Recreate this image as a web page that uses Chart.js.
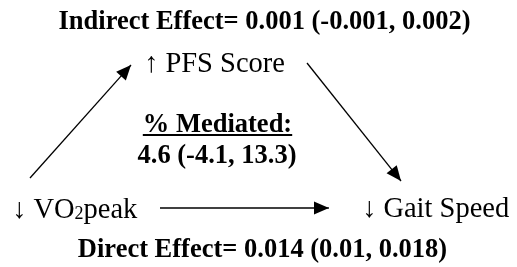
<!DOCTYPE html>
<html>
<head>
<meta charset="utf-8">
<script src="https://cdn.jsdelivr.net/npm/chart.js@4.4.1/dist/chart.umd.min.js"></script>
<style>
  html, body { margin: 0; padding: 0; background: #ffffff; }
  #wrap { width: 517px; height: 267px; }
</style>
</head>
<body>
<div id="wrap"><canvas id="c" width="517" height="267"></canvas></div>
<script>
// ---- data ----
const nodeNames = ["VO", "PFS Score", "Gait Speed"];
const nodeDirections = ["\u2193", "\u2191", "\u2193"];
const indirectEffect = [0.001, -0.001, 0.002];   // estimate, lower, upper
const directEffect = [0.014, 0.01, 0.018];       // estimate, lower, upper
const pctMediated = [4.6, -4.1, 13.3];           // estimate, lower, upper
const paths = [[0, 1], [1, 2], [0, 2]];          // from node -> to node

// ---- layout (diagram space, same units as the hidden axes) ----
const W = 517, H = 267;
const nodeAnchors = [ {x: 12, y: 218}, {x: 144, y: 72}, {x: 362, y: 217} ];
const arrowEnds = [
  [{x: 30, y: 178}, {x: 131, y: 65}],
  [{x: 307, y: 63}, {x: 401, y: 181}],
  [{x: 160, y: 208}, {x: 329, y: 208}]
];
const headLen = 15, headHalfW = 6.5;

function ci(v) { return v[0] + " (" + v[1] + ", " + v[2] + ")"; }
const titleText = "Indirect Effect= " + ci(indirectEffect);
const footText = "Direct Effect= " + ci(directEffect);
const medLabel = "% Mediated:";
const medText = ci(pctMediated);

// shorten each line so it ends at the base of the arrowhead
const datasets = paths.map((p, i) => {
  const a = arrowEnds[i][0], b = arrowEnds[i][1];
  const dx = b.x - a.x, dy = b.y - a.y, L = Math.hypot(dx, dy);
  return {
    label: nodeNames[p[0]] + " -> " + nodeNames[p[1]],
    data: [a, {x: b.x - dx / L * (headLen - 1), y: b.y - dy / L * (headLen - 1)}, b],
    showLine: true,
    borderColor: "#000",
    backgroundColor: "#000",
    borderWidth: 1.3,
    pointRadius: 0,
    pointHoverRadius: 0,
    segment: { borderWidth: ctx => ctx.p1DataIndex === 2 ? 0 : 1.3 }
  };
});

const diagramPlugin = {
  id: "diagram",
  afterDatasetsDraw(chart) {
    const ctx = chart.ctx, xs = chart.scales.x, ys = chart.scales.y;
    const px = v => xs.getPixelForValue(v), py = v => ys.getPixelForValue(v);
    ctx.save();
    ctx.fillStyle = "#000";
    ctx.strokeStyle = "#000";
    // arrowheads
    chart.data.datasets.forEach((ds, i) => {
      const meta = chart.getDatasetMeta(i);
      const a = meta.data[0], t = meta.data[2];
      const dx = t.x - a.x, dy = t.y - a.y, L = Math.hypot(dx, dy);
      const ux = dx / L, uy = dy / L, nx = -uy, ny = ux;
      const bx = t.x - ux * headLen, by = t.y - uy * headLen;
      ctx.beginPath();
      ctx.moveTo(t.x, t.y);
      ctx.lineTo(bx + nx * headHalfW, by + ny * headHalfW);
      ctx.lineTo(bx - nx * headHalfW, by - ny * headHalfW);
      ctx.closePath();
      ctx.fill();
    });
    ctx.textBaseline = "alphabetic";
    const bold = "bold 26.5px 'Liberation Serif', 'Times New Roman', serif";
    const reg = "28.5px 'Liberation Serif', 'Times New Roman', serif";
    // title / footer
    ctx.font = bold; ctx.textAlign = "center";
    ctx.fillText(titleText, px(264.5), py(29));
    ctx.fillText(footText, px(262.5), py(257));
    // % mediated
    ctx.fillText(medLabel, px(217.5), py(132));
    const mw = ctx.measureText(medLabel).width;
    ctx.fillRect(px(217.5) - mw / 2, py(134), mw, 2);
    ctx.fillText(medText, px(217), py(163));
    // nodes
    ctx.font = reg; ctx.textAlign = "left";
    nodeNames.forEach((n, i) => {
      const x = px(nodeAnchors[i].x), y = py(nodeAnchors[i].y);
      const s = nodeDirections[i] + " " + n;
      ctx.fillText(s, x, y);
      if (i === 0) {
        let w = ctx.measureText(s).width;
        ctx.font = "18px 'Liberation Serif', 'Times New Roman', serif";
        ctx.fillText("2", x + w, y + 1);
        w += ctx.measureText("2").width;
        ctx.font = reg;
        ctx.fillText("peak", x + w, y);
      }
    });
    ctx.restore();
  }
};

new Chart(document.getElementById("c"), {
  type: "scatter",
  data: { datasets },
  options: {
    responsive: false,
    devicePixelRatio: 1,
    animation: false,
    layout: { padding: 0 },
    plugins: { legend: { display: false }, tooltip: { enabled: false }, title: { display: false } },
    scales: {
      x: { type: "linear", min: 0, max: W, display: false },
      y: { type: "linear", min: 0, max: H, reverse: true, display: false }
    },
    events: []
  },
  plugins: [diagramPlugin]
});
</script>
</body>
</html>
